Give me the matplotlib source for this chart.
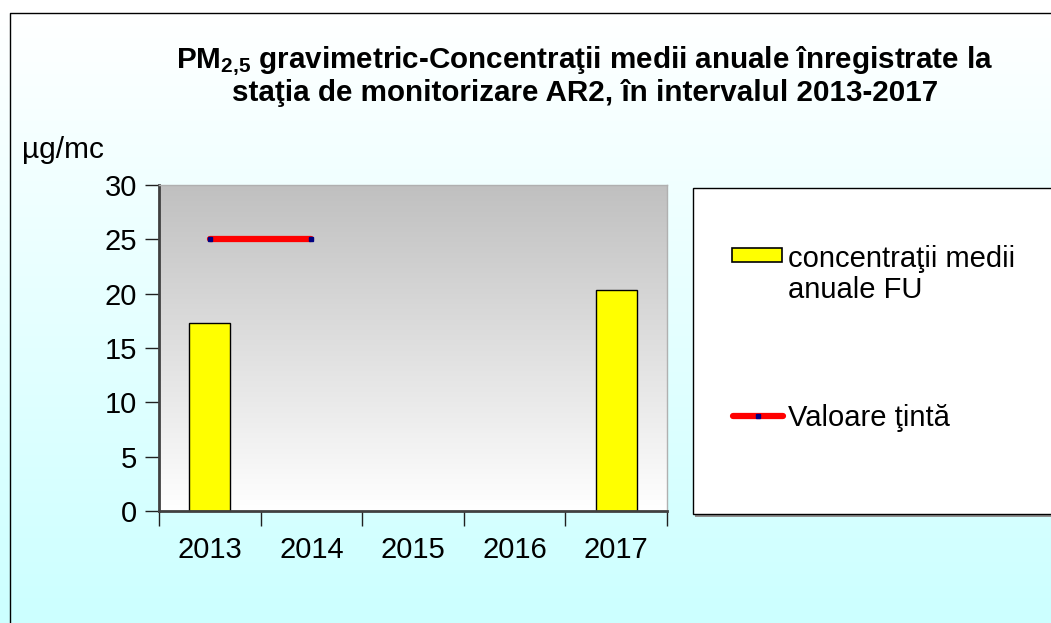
import numpy as np
import matplotlib.pyplot as plt
from matplotlib.patches import Rectangle
from matplotlib.lines import Line2D
from matplotlib.colors import LinearSegmentedColormap

plt.rcParams['font.family'] = ['Liberation Sans', 'DejaVu Sans']
plt.rcParams['mathtext.fontset'] = 'custom'
plt.rcParams['mathtext.default'] = 'bf'
plt.rcParams['mathtext.bf'] = 'Liberation Sans:bold'

# data
years = ['2013', '2014', '2015', '2016', '2017']
conc = [17.3, np.nan, np.nan, np.nan, 20.3]
target_years = [0, 1]
target = [25, 25]

W, H = 1051, 623
fig = plt.figure(figsize=(W / 100, H / 100), dpi=100)

# figure background gradient (white -> light cyan)
bg = fig.add_axes([0, 0, 1, 1], zorder=-10)
bg_cmap = LinearSegmentedColormap.from_list('bg', ['#ffffff', '#ccffff'])
bg.imshow(np.linspace(0, 1, 256).reshape(-1, 1), aspect='auto', cmap=bg_cmap,
          extent=[0, 1, 0, 1 - 13 / H], origin='upper')
bg.set_xlim(0, 1)
bg.set_ylim(0, 1)
bg.axis('off')
bg.add_line(Line2D([10 / W, 10 / W, 1], [0, 1 - 13 / H, 1 - 13 / H], color='black', lw=1))

ax = fig.add_axes([159 / W, 1 - 511 / H, 508 / W, 326 / H])
pa_cmap = LinearSegmentedColormap.from_list('pa', ['#c0c0c0', '#ffffff'])
ax.imshow(np.linspace(0, 1, 256).reshape(-1, 1), aspect='auto', cmap=pa_cmap,
          extent=[-0.5, 4.5, 0, 30], origin='upper', zorder=0)

x = np.arange(len(years))
ax.bar(x, conc, width=0.4, color='#ffff00', edgecolor='black', lw=1, zorder=2)
ax.plot(target_years, target, color='red', lw=4.5, solid_capstyle='round', zorder=3)
ax.plot(target_years, target, ls='none', marker='s', ms=2.5, color='#000080', zorder=4)

ax.set_xlim(-0.5, 4.5)
ax.set_ylim(0, 30)
ax.set_yticks(range(0, 31, 5))
ax.set_xticks(x)
ax.set_xticklabels(years)
ax.set_xticks(np.arange(-0.5, 5, 1), minor=True)
ax.tick_params(axis='x', which='major', length=0, pad=18, labelsize=21)
ax.tick_params(axis='x', which='minor', length=11, width=1, direction='out', color='#202020')
ax.tick_params(axis='y', length=10, width=1, direction='out', labelsize=21, pad=6, color='#202020')
for s in ['left', 'bottom']:
    ax.spines[s].set_color('#404040')
    ax.spines[s].set_linewidth(2)
for s in ['top', 'right']:
    ax.spines[s].set_color('#b0b0b0')
    ax.spines[s].set_linewidth(1)

fig.text(22 / W, 1 - 150 / H, 'µg/mc', fontsize=21.5, va='center', ha='left')

fig.text(585 / W, 1 - 76 / H,
         'PM$_{2{,}5}$ gravimetric-Concentraţii medii anuale înregistrate la\n'
         'staţia de monitorizare AR2, în intervalul 2013-2017',
         fontsize=21.3, fontweight='bold', ha='center', va='center', linespacing=1.02)

# legend box
fig.patches.append(Rectangle((695 / W, 1 - 517 / H), 400 / W, 328 / H, transform=fig.transFigure,
                             facecolor='#909090', edgecolor='none', zorder=1))
fig.patches.append(Rectangle((693 / W, 1 - 514 / H), 400 / W, 326 / H, transform=fig.transFigure,
                             facecolor='white', edgecolor='black', lw=1, zorder=2))
fig.patches.append(Rectangle((732 / W, 1 - 262 / H), 50 / W, 14 / H, transform=fig.transFigure,
                             facecolor='#ffff00', edgecolor='black', lw=1.2, zorder=3))
fig.text(788 / W, 1 - 245 / H, 'concentraţii medii\nanuale FU', fontsize=21, va='top',
         ha='left', linespacing=1.15, zorder=3)
fig.add_artist(Line2D([733 / W, 783 / W], [1 - 416 / H, 1 - 416 / H], color='red', lw=4.5,
                      solid_capstyle='round', zorder=3))
fig.add_artist(Line2D([758 / W], [1 - 416 / H], marker='s', ms=2.5, color='#000080', ls='none', zorder=4))
fig.text(788 / W, 1 - 418 / H, 'Valoare ţintă', fontsize=21, va='center', ha='left', zorder=3)

fig.savefig('out.png', dpi=100)
